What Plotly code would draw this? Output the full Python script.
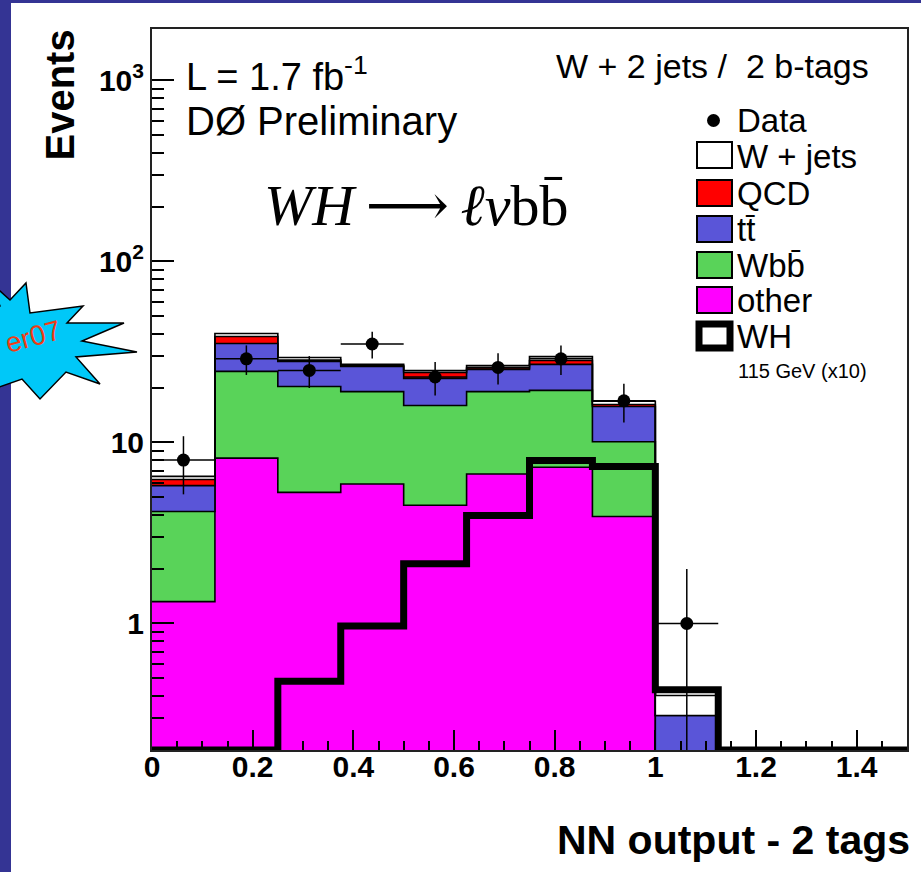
import numpy as np
import plotly.graph_objects as go

# ---------------- data ----------------
bin_edges = [0.0, 0.125, 0.25, 0.375, 0.5, 0.625, 0.75, 0.875, 1.0, 1.125, 1.25, 1.375, 1.5]

other = [1.32, 8.2, 5.3, 5.9, 4.5, 6.7, 7.3, 3.9, 0.05, 0, 0, 0]
wbb   = [2.84, 16.5, 15.1, 13.2, 11.5, 12.4, 12.1, 6.2, 0.05, 0, 0, 0]
ttbar = [1.62, 10.5, 7.6, 7.2, 6.6, 6.2, 7.6, 5.7, 0.21, 0, 0, 0]
qcd   = [0.47, 3.3, 0.5, 0.3, 1.8, 0.5, 1.4, 0.4, 0.0, 0, 0, 0]
wjets = [0.25, 1.5, 1.0, 0.4, 0.6, 0.8, 1.4, 0.7, 0.09, 0, 0, 0]

data_counts = [8, 29, 25, 35, 23, 26, 29, 17, 1, 0, 0, 0]
data_err    = [2.83, 5.39, 5.0, 5.92, 4.8, 5.1, 5.39, 4.12, 1.0, 0, 0, 0]

wh_x10 = [0, 0, 0.48, 0.97, 2.14, 3.95, 7.95, 7.37, 0.43, 0, 0, 0]

y_ticks = [1, 10, 100, 1000]
y_ticktext = ["1", "10", "10<sup>2</sup>", "10<sup>3</sup>"]

legend_labels = ["Data", "W + jets", "QCD", "tt\u0304", "Wbb\u0304", "other", "WH"]

# ---------------- style ----------------
C_BLUEBG = "#343494"
C_OTHER = "#ff00ff"
C_WBB = "#59d359"
C_TT = "#5a55d8"
C_QCD = "#ff0000"
C_WJ = "#ffffff"
SANS = "Liberation Sans, Arial, sans-serif"
SERIF = "Liberation Serif, DejaVu Serif, serif"

W, H = 921, 872
L, R, T, B = 152, 14, 29, 122
PW, PH = W - L - R, H - T - B
YMIN = 0.2
FLOOR = 1e-3


def px2x(px):
    return (px - L) / PW


def px2y(py):
    return (H - B - py) / PH


edges = np.array(bin_edges)
centers = 0.5 * (edges[:-1] + edges[1:])
half_w = 0.5 * (edges[1] - edges[0])

fig = go.Figure()

# baseline for the stacked fills
fig.add_trace(go.Scatter(x=edges, y=[FLOOR] * len(edges), mode="lines",
                         line=dict(width=0, shape="hv"), showlegend=False,
                         hoverinfo="skip"))

layers = [(other, C_OTHER), (wbb, C_WBB), (ttbar, C_TT), (qcd, C_QCD), (wjets, C_WJ)]
cum = np.zeros(len(centers))
for vals, col in layers:
    cum = cum + np.array(vals, dtype=float)
    yy = np.maximum(cum, FLOOR)
    ystep = list(yy) + [yy[-1]]
    fig.add_trace(go.Scatter(x=edges, y=ystep, mode="lines",
                             line=dict(shape="hv", color="black", width=1.6),
                             fill="tonexty", fillcolor=col, showlegend=False,
                             hoverinfo="skip"))

# WH signal (x10)
wh = np.maximum(np.array(wh_x10, dtype=float), YMIN)
fig.add_trace(go.Scatter(x=edges, y=list(wh) + [wh[-1]], mode="lines",
                         line=dict(shape="hv", color="black", width=7),
                         showlegend=False, hoverinfo="skip"))

# data points
dc = np.array(data_counts, dtype=float)
de = np.array(data_err, dtype=float)
mask = dc > 0
fig.add_trace(go.Scatter(x=centers[mask], y=dc[mask], mode="markers",
                         marker=dict(color="black", size=13),
                         error_y=dict(type="data", array=de[mask],
                                      arrayminus=np.minimum(de[mask], dc[mask] * 0.999),
                                      color="black", thickness=1.5, width=0),
                         error_x=dict(type="constant", value=half_w, color="black",
                                      thickness=1.5, width=0),
                         showlegend=False, hoverinfo="skip"))

# ---------------- decorations / legend ----------------
shapes = []
# blue frame strips of the slide
shapes.append(dict(type="rect", xref="paper", yref="paper", x0=px2x(-5), x1=px2x(11),
                   y0=px2y(H + 5), y1=px2y(-5), fillcolor=C_BLUEBG, line=dict(width=0)))
shapes.append(dict(type="rect", xref="paper", yref="paper", x0=px2x(-5), x1=px2x(W + 5),
                   y0=px2y(3), y1=px2y(-5), fillcolor=C_BLUEBG, line=dict(width=0)))
# starburst
star = [(26, 283), (30, 313), (83, 306), (67, 323), (124, 323), (82, 341), (137, 352),
        (76, 357), (100, 384), (66, 372), (40, 399), (22, 379), (-15, 392), (-5, 352),
        (-30, 330), (0, 306), (-10, 282), (10, 300)]
path = "M " + " L ".join(f"{px2x(a):.5f},{px2y(b):.5f}" for a, b in star) + " Z"
shapes.append(dict(type="path", xref="paper", yref="paper", path=path,
                   fillcolor="#00c8f8", line=dict(color="black", width=1.5)))

# legend swatches
leg_x0, leg_x1 = 697, 732
rows = [155, 193, 229, 265, 300]
cols = [C_WJ, C_QCD, C_TT, C_WBB, C_OTHER]
for yc, col in zip(rows, cols):
    shapes.append(dict(type="rect", xref="paper", yref="paper", x0=px2x(leg_x0), x1=px2x(leg_x1),
                       y0=px2y(yc + 13), y1=px2y(yc - 13), fillcolor=col,
                       line=dict(color="black", width=2)))
shapes.append(dict(type="rect", xref="paper", yref="paper", x0=px2x(leg_x0 + 2), x1=px2x(leg_x1 - 2),
                   y0=px2y(348), y1=px2y(324), fillcolor="white",
                   line=dict(color="black", width=7)))
shapes.append(dict(type="circle", xref="paper", yref="paper", x0=px2x(707), x1=px2x(720),
                   y0=px2y(127), y1=px2y(114), fillcolor="black", line=dict(width=0)))

annotations = []


def ann(text, x, y, size, xanchor="left", yanchor="middle", bold=False, family=SANS,
        color="black", angle=0):
    annotations.append(dict(text=text, x=px2x(x), y=px2y(y), xref="paper", yref="paper",
                            showarrow=False, xanchor=xanchor, yanchor=yanchor,
                            textangle=angle,
                            font=dict(size=size, family=family, color=color,
                                      weight="bold" if bold else "normal")))


leg_rows = [120, 156, 193, 229, 265, 300, 336]
for lab, yc in zip(legend_labels, leg_rows):
    ann(lab, 735, yc, 33)
ann("115 GeV (x10)", 736, 371, 20)

ann("Events", 59, 28, 40, xanchor="center", yanchor="top", bold=True, angle=-90)
ann("L = 1.7 fb<sup>-1</sup>", 184, 74, 38)
ann("DØ Preliminary", 184, 121, 40)
ann("W + 2 jets /\u00a0\u00a02 b-tags", 871, 66, 34, xanchor="right")
ann("<i>WH</i>\u2009\u27f6\u2009<i>\u2113\u03bd</i>bb\u0304", 262, 205, 58, family=SERIF)
ann("NN output - 2 tags", 912, 840, 41, xanchor="right", bold=True)
ann("er07", 33, 336, 28, xanchor="center", color="#f03c14", angle=-15)

minor_y = [m * 10.0 ** e for e in range(-1, 4) for m in range(2, 10)]

fig.update_layout(
    width=W, height=H, autosize=False,
    margin=dict(l=L, r=R, t=T, b=B, pad=0),
    paper_bgcolor="white", plot_bgcolor="white",
    showlegend=False,
    shapes=shapes, annotations=annotations,
    xaxis=dict(range=[0, 1.5], tickmode="linear", tick0=0, dtick=0.2,
               ticks="inside", ticklen=20, tickwidth=2, tickcolor="black",
               ticklabelstandoff=-11,
               showline=True, linecolor="#222", linewidth=2, mirror=True,
               showgrid=False, zeroline=False,
               tickfont=dict(family=SANS, size=30, color="black", weight="bold"),
               minor=dict(dtick=0.05, tick0=0, ticks="inside", ticklen=9, tickwidth=2,
                          tickcolor="black", showgrid=False)),
    yaxis=dict(type="log", range=[np.log10(YMIN), np.log10(YMIN) + PH / 181.0],
               tickmode="array", tickvals=y_ticks, ticktext=y_ticktext,
               ticks="inside", ticklen=22, tickwidth=2, tickcolor="black",
               showline=True, linecolor="#222", linewidth=2, mirror=True,
               showgrid=False, zeroline=False,
               tickfont=dict(family=SANS, size=30, color="black", weight="bold"),
               minor=dict(tickmode="array", tickvals=minor_y, ticks="inside", ticklen=12,
                          tickwidth=2, tickcolor="black", showgrid=False)),
)

fig.write_html("out.html", config={"displayModeBar": False},
               post_script="document.body.style.margin='0';")
